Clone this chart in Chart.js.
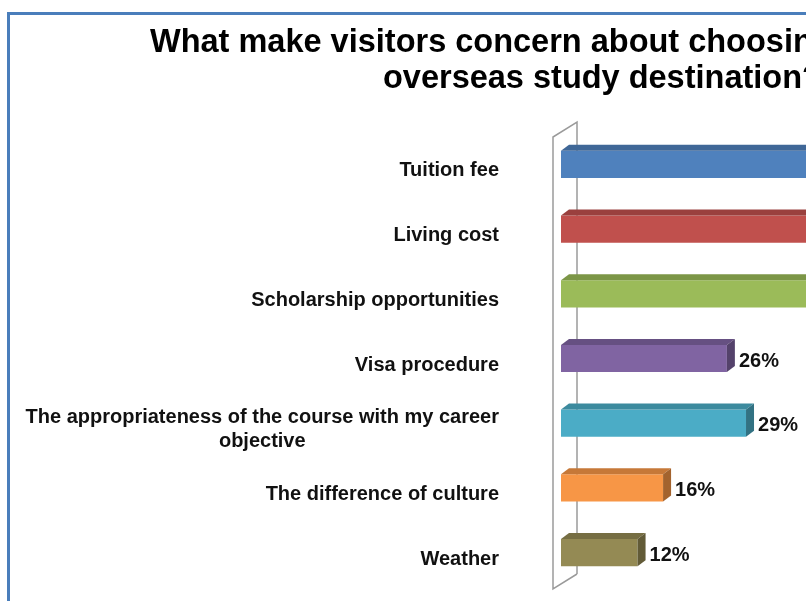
<!DOCTYPE html>
<html>
<head>
<meta charset="utf-8">
<script src="https://cdn.jsdelivr.net/npm/chart.js@4"></script>
<style>
    html, body { margin: 0; padding: 0; background: #fff; }
    #wrap { width: 806px; height: 601px; overflow: hidden; position: relative; }
    canvas { display: block; }
</style>
</head>
<body>
<div id="wrap"><canvas id="concerns" width="1220" height="640"></canvas></div>
<script>
const titleLines = ['What make visitors concern about choosing', 'overseas study destination?']
const categories = [
    'Tuition fee',
    'Living cost',
    'Scholarship opportunities',
    'Visa procedure',
    ['The appropriateness of the course with my career', 'objective'],
    'The difference of culture',
    'Weather'
]
const shares = [58, 49, 41, 26, 29, 16, 12]
const barColors = ['#4f81bd', '#c0504d', '#9bbb59', '#8064a2', '#4bacc6', '#f79646', '#948a54']

const FONT = '"Liberation Sans", Arial, sans-serif'
const DEPTH_X = 8
const DEPTH_Y = 6

// darken a hex colour by factor k
const shade = (hex, k) => {
    const n = parseInt(hex.slice(1), 16)
    const r = Math.round(((n >> 16) & 255) * k)
    const g = Math.round(((n >> 8) & 255) * k)
    const b = Math.round((n & 255) * k)
    return 'rgb(' + r + ',' + g + ',' + b + ')'
}

// outer border + two-line heading
const frame = {
    id: 'frame',
    beforeDraw(chart) {
        const c = chart.ctx
        c.save()
        c.fillStyle = '#fff'
        c.fillRect(0, 0, chart.width, chart.height)
        c.strokeStyle = '#4a7ebb'
        c.lineWidth = 3
        c.strokeRect(8.5, 13.5, chart.width, chart.height)
        c.fillStyle = '#000'
        c.font = 'bold 32.5px ' + FONT
        c.textAlign = 'left'
        c.textBaseline = 'alphabetic'
        c.fillText(titleLines[0], 150, 52)
        c.fillText(titleLines[1], 383, 88)
        c.restore()
    }
}

// side wall behind the bars and the category labels
const wall = {
    id: 'wall',
    beforeDatasetsDraw(chart) {
        const c = chart.ctx
        const a = chart.chartArea
        const fx = a.left - 8, fTop = a.top + 5, fBot = a.bottom + 4
        const bx = a.left + 16, bTop = a.top - 10, bBot = a.bottom - 11
        c.save()
        c.strokeStyle = '#9a9a9a'
        c.lineWidth = 1.5
        c.beginPath()
        c.moveTo(bx, bBot)
        c.lineTo(bx, bTop)
        c.lineTo(fx, fTop)
        c.lineTo(fx, fBot)
        c.lineTo(bx, bBot)
        c.stroke()

        // labels: right aligned block, extra lines centred under the widest one
        const y = chart.scales.y
        c.fillStyle = '#111'
        c.font = 'bold 20px ' + FONT
        c.textBaseline = 'middle'
        c.textAlign = 'center'
        const right = a.left - 62
        const lh = 23.5
        categories.forEach((lab, i) => {
            const lines = Array.isArray(lab) ? lab : [lab]
            const w = Math.max(...lines.map(l => c.measureText(l).width))
            const cy = y.getPixelForValue(i) + 6.5
            lines.forEach((l, j) => {
                c.fillText(l, right - w / 2, cy + (j - (lines.length - 1) / 2) * lh)
            })
        })
        c.restore()
    }
}

// top and end faces of every bar, then the value text
const bars3d = {
    id: 'bars3d',
    afterDatasetsDraw(chart) {
        const c = chart.ctx
        const meta = chart.getDatasetMeta(0)
        c.save()
        meta.data.forEach((bar, i) => {
            const { x, y, base, height } = bar.getProps(['x', 'y', 'base', 'height'], true)
            const top = y - height / 2
            const bot = y + height / 2
            c.fillStyle = shade(barColors[i], 0.8)
            c.beginPath()
            c.moveTo(base, top)
            c.lineTo(base + DEPTH_X, top - DEPTH_Y)
            c.lineTo(x + DEPTH_X, top - DEPTH_Y)
            c.lineTo(x, top)
            c.closePath()
            c.fill()
            c.fillStyle = shade(barColors[i], 0.66)
            c.beginPath()
            c.moveTo(x, top)
            c.lineTo(x + DEPTH_X, top - DEPTH_Y)
            c.lineTo(x + DEPTH_X, bot - DEPTH_Y)
            c.lineTo(x, bot)
            c.closePath()
            c.fill()

            c.fillStyle = '#111'
            c.font = 'bold 20px ' + FONT
            c.textAlign = 'left'
            c.textBaseline = 'middle'
            c.fillText(shares[i] + '%', x + 12, y + 2.5)
        })
        c.restore()
    }
}

new Chart(document.getElementById('concerns'), {
    type: 'bar',
    data: {
        labels: categories,
        datasets: [{
            data: shares,
            backgroundColor: barColors,
            borderWidth: 0,
            categoryPercentage: 1,
            barPercentage: 0.42
        }]
    },
    options: {
        indexAxis: 'y',
        responsive: false,
        animation: false,
        layout: { padding: { left: 561, top: 132, right: 21, bottom: 55 } },
        scales: {
            x: { min: 0, max: 100, display: false },
            y: { display: false }
        },
        plugins: {
            legend: { display: false },
            tooltip: { enabled: false }
        }
    },
    plugins: [frame, wall, bars3d]
})
</script>
</body>
</html>
